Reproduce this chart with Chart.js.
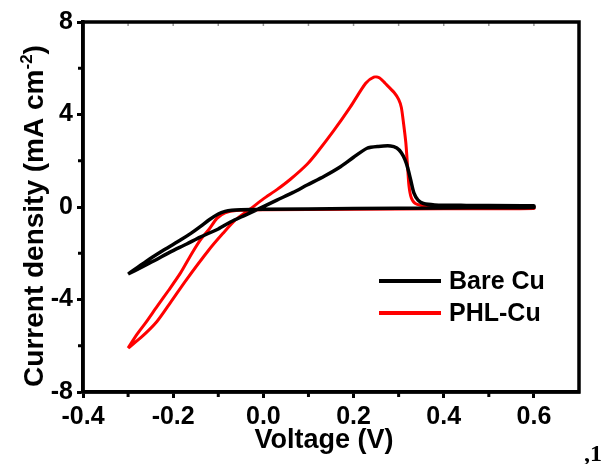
<!DOCTYPE html>
<html>
<head>
<meta charset="utf-8">
<script src="https://cdn.jsdelivr.net/npm/chart.js@4.4.0/dist/chart.umd.min.js"></script>
<style>
  html, body { margin: 0; padding: 0; background: #fff; }
  #wrap { width: 603px; height: 464px; position: relative; }
</style>
</head>
<body>
<div id="wrap"><canvas id="cv"></canvas></div>
<script>
// values (one closed CV loop per electrode)
const bareCuVoltage = [-0.30, -0.27, -0.24, -0.207, -0.17, -0.14, -0.10, -0.073, -0.04, -0.007,
  0.03, 0.065, 0.097, 0.135, 0.171, 0.20, 0.23, 0.255, 0.282, 0.296, 0.306, 0.314, 0.32, 0.327,
  0.334, 0.343, 0.355, 0.38, 0.45, 0.60, 0.60, 0.40, 0.20, 0.00, -0.05, -0.07, -0.085, -0.10,
  -0.12, -0.14, -0.16, -0.184, -0.22, -0.26, -0.30];
const bareCuCurrent = [-2.90, -2.60, -2.30, -1.95, -1.60, -1.30, -0.95, -0.65, -0.35, -0.05,
  0.30, 0.62, 0.95, 1.33, 1.74, 2.15, 2.54, 2.62, 2.64, 2.55, 2.35, 2.05, 1.70, 1.15,
  0.60, 0.30, 0.15, 0.09, 0.07, 0.05, -0.02, -0.04, -0.07, -0.10, -0.12, -0.14, -0.19, -0.30,
  -0.55, -0.85, -1.13, -1.43, -1.85, -2.35, -2.90];

const phlCuVoltage = [-0.30, -0.27, -0.236, -0.205, -0.172, -0.121, -0.09, -0.062, -0.03, 0.0,
  0.03, 0.06, 0.097, 0.12, 0.156, 0.193, 0.227, 0.245, 0.258, 0.27, 0.29, 0.30,
  0.306, 0.311, 0.316, 0.32, 0.323, 0.328, 0.337, 0.36, 0.45, 0.60, 0.60, 0.40, 0.20, 0.00,
  -0.06, -0.085, -0.103, -0.12, -0.14, -0.16, -0.184, -0.21, -0.236, -0.26, -0.28, -0.30];
const phlCuCurrent = [-6.10, -5.62, -4.95, -4.10, -3.18, -1.86, -1.15, -0.56, -0.10, 0.35,
  0.75, 1.20, 1.85, 2.38, 3.30, 4.33, 5.35, 5.62, 5.58, 5.35, 4.95, 4.65,
  4.30, 3.60, 2.77, 1.70, 0.90, 0.40, 0.15, 0.04, 0.0, -0.02, -0.07, -0.08, -0.10, -0.12,
  -0.15, -0.25, -0.49, -0.95, -1.43, -2.05, -2.86, -3.60, -4.31, -4.98, -5.50, -6.10];

const seriesNames = ['Bare Cu', 'PHL-Cu'];
const seriesColors = ['#000000', '#ff0000'];

const xTicks = [-0.4, -0.2, 0.0, 0.2, 0.4, 0.6];
const xMinorTicks = [-0.3, -0.1, 0.1, 0.3, 0.5];
const yTicks = [-8, -4, 0, 4, 8];
const yMinorTicks = [-6, -2, 2, 6];

const FONT = 'Arial, "Liberation Sans", sans-serif';

function toPoints(xs, ys) {
  return xs.map((x, i) => ({ x: x, y: ys[i] }));
}

// frame, minor ticks, axis titles, legend drawn on top of the chart
const decorations = {
  id: 'decorations',
  afterDraw(chart) {
    const ctx = chart.ctx;
    const a = chart.chartArea;
    const xs = chart.scales.x;
    const ys = chart.scales.y;
    ctx.save();

    // minor ticks (outside) and faint top ticks (inside)
    ctx.strokeStyle = '#000';
    ctx.lineWidth = 3;
    xMinorTicks.forEach(v => {
      const px = xs.getPixelForValue(v);
      ctx.beginPath(); ctx.moveTo(px, a.bottom); ctx.lineTo(px, a.bottom + 5); ctx.stroke();
    });
    yMinorTicks.forEach(v => {
      const py = ys.getPixelForValue(v);
      ctx.beginPath(); ctx.moveTo(a.left, py); ctx.lineTo(a.left - 5, py); ctx.stroke();
    });
    ctx.strokeStyle = '#999';
    ctx.lineWidth = 1.5;
    xTicks.concat(xMinorTicks).forEach(v => {
      const px = xs.getPixelForValue(v);
      ctx.beginPath(); ctx.moveTo(px, a.top); ctx.lineTo(px, a.top + 4); ctx.stroke();
    });

    // frame
    ctx.strokeStyle = '#000';
    ctx.lineWidth = 3.5;
    ctx.strokeRect(a.left, a.top, a.right - a.left, a.bottom - a.top);

    // x title
    ctx.fillStyle = '#000';
    ctx.font = 'bold 27px ' + FONT;
    ctx.textAlign = 'center';
    ctx.textBaseline = 'alphabetic';
    ctx.fillText('Voltage (V)', 324, 448);

    // y title with superscript
    const main = 'Current density (mA cm';
    const sup = '-2';
    const tail = ')';
    ctx.font = 'bold 28px ' + FONT;
    const wMain = ctx.measureText(main).width;
    const wTail = ctx.measureText(tail).width;
    ctx.font = 'bold 17px ' + FONT;
    const wSup = ctx.measureText(sup).width;
    const total = wMain + wSup + wTail;
    ctx.translate(43, 216);
    ctx.rotate(-Math.PI / 2);
    ctx.textAlign = 'left';
    let cx = -total / 2;
    ctx.font = 'bold 28px ' + FONT;
    ctx.fillText(main, cx, 0);
    cx += wMain;
    ctx.font = 'bold 17px ' + FONT;
    ctx.fillText(sup, cx, -11);
    cx += wSup;
    ctx.font = 'bold 28px ' + FONT;
    ctx.fillText(tail, cx, 0);
    ctx.setTransform(1, 0, 0, 1, 0, 0);

    // legend inside the plot
    chart.data.datasets.forEach((ds, i) => {
      const y = 281 + i * 32;
      ctx.strokeStyle = ds.borderColor;
      ctx.lineWidth = 4;
      ctx.beginPath(); ctx.moveTo(379, y); ctx.lineTo(441, y); ctx.stroke();
      ctx.fillStyle = '#000';
      ctx.font = 'bold 25px ' + FONT;
      ctx.textAlign = 'left';
      ctx.textBaseline = 'middle';
      ctx.fillText(ds.label, 449, y + 1);
    });

    // stray caption fragment at the bottom right
    ctx.font = 'bold 24px "Liberation Serif", "Times New Roman", serif';
    ctx.textAlign = 'left';
    ctx.textBaseline = 'alphabetic';
    ctx.fillText(',1', 584, 461);

    ctx.restore();
  }
};

document.addEventListener('DOMContentLoaded', function() {
  const ctx = document.getElementById('cv').getContext('2d');
  new Chart(ctx, {
    type: 'scatter',
    data: {
      datasets: [
        {
          label: seriesNames[0],
          data: toPoints(bareCuVoltage, bareCuCurrent),
          borderColor: seriesColors[0],
          borderWidth: 3.5,
          showLine: true,
          pointRadius: 0,
          tension: 0.25
        },
        {
          label: seriesNames[1],
          data: toPoints(phlCuVoltage, phlCuCurrent),
          borderColor: seriesColors[1],
          borderWidth: 3,
          showLine: true,
          pointRadius: 0,
          tension: 0.25
        }
      ]
    },
    options: {
      responsive: true,
      maintainAspectRatio: false,
      animation: false,
      devicePixelRatio: 1,
      layout: { padding: { top: 22, right: 24, left: 0, bottom: 0 } },
      plugins: { legend: { display: false }, tooltip: { enabled: false } },
      scales: {
        x: {
          type: 'linear',
          min: -0.4,
          max: 0.7,
          afterBuildTicks: scale => { scale.ticks = xTicks.map(v => ({ value: v })); },
          afterFit: scale => { scale.height = 72; },
          grid: { drawOnChartArea: false, drawTicks: true, tickLength: 6, tickWidth: 3, tickColor: '#000' },
          border: { display: true, color: '#000', width: 3.5 },
          ticks: {
            padding: 4,
            color: '#000',
            maxRotation: 0,
            font: { family: FONT, size: 25, weight: 'bold' },
            callback: v => Number(v).toFixed(1)
          }
        },
        y: {
          type: 'linear',
          min: -8,
          max: 8,
          afterBuildTicks: scale => { scale.ticks = yTicks.map(v => ({ value: v })); },
          afterFit: scale => { scale.width = 83; },
          grid: { drawOnChartArea: false, drawTicks: true, tickLength: 6, tickWidth: 3, tickColor: '#000' },
          border: { display: true, color: '#000', width: 3.5 },
          ticks: {
            padding: 4,
            color: '#000',
            font: { family: FONT, size: 25, weight: 'bold' },
            callback: v => String(v)
          }
        }
      }
    },
    plugins: [decorations]
  });
});
</script>
</body>
</html>
